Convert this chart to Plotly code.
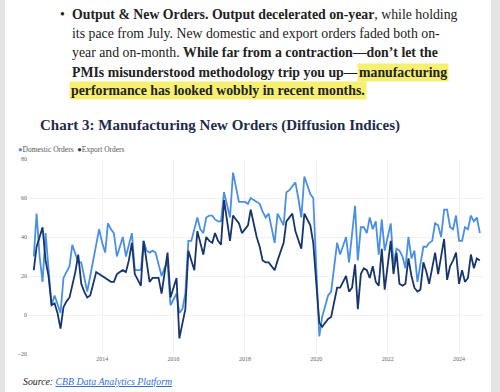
import plotly.graph_objects as go
import pandas as pd

# ---- data (monthly, Feb 2012 - Aug 2024) ----
months = pd.date_range("2012-02-01", "2024-08-01", freq="MS")

domestic_orders = [
    30, 52, 30, 17, 42, 23, 5, 10, 6, 1,
    19, 22, 25, 36, 31, 27, 27, 20, 12, 20,
    28, 36, 44, 37, 32, 47, 44, 42, 30, 35,
    40, 30, 36, 42, 23, 23, 23, 38, 33, 32,
    33, 32, 26, 20, 24, 27, 5, 8, 11, 1,
    3, 11, 38, 38, 44, 50, 44, 42, 50, 51,
    51, 49, 48, 48, 63, 56, 50, 73, 65, 58,
    58, 58, 57, 60, 59, 58, 57, 53, 50, 52,
    45, 37, 52, 49, 46, 63, 64, 66, 68, 60,
    50, 71, 66, 62, 60, 24, -11, -1, 5, 10,
    12, 25, 37, 31, 35, 40, 27, 40, 56, 28,
    45, 45, 42, 50, 44, 48, 31, 49, 33, 40,
    47, 26, 34, 33, 30, 24, 40, 29, 33, 17,
    27, 35, 35, 37, 38, 47, 46, 40, 54, 54,
    45, 44, 51, 38, 38, 45, 44, 51, 48, 50,
    42,
]

export_orders = [
    23, 35, 40, 45, 28, 20, 5, 6, 1, -7,
    4, 7, 9, 15, 22, 31, 16, 12, 9, 10,
    16, 22, 21, 20, 19, 18, 17, 17, 21, 22,
    23, 22, 28, 37, 21, 18, 15, 38, 28, 17,
    19, 19, 19, 11, 22, 32, 9, 14, 19, -12,
    -4, 3, 33, 28, 23, 43, 37, 31, 40, 38,
    37, 42, 38, 36, 59, 48, 38, 51, 49, 47,
    42, 44, 46, 54, 47, 40, 35, 28, 27, 27,
    25, 23, 28, 32, 37, 48, 50, 52, 43, 38,
    34, 52, 49, 46, 37, 18, -4, -6, -4, -2,
    -1, 7, 14, 14, 17, 20, 12, 14, 26, 3,
    21, 24, 23, 19, 25, 17, 15, 34, 13, 25,
    38, 21, 32, 16, 15, 16, 29, 20, 14, 12,
    13, 27, 22, 16, 25, 32, 21, 30, 39, 18,
    25, 28, 32, 16, 23, 17, 19, 31, 24, 29,
    28,
]

series_names = ["Domestic Orders", "Export Orders"]
y_ticks = [-20, 0, 20, 40, 60, 80]
x_tick_years = ["2014", "2016", "2018", "2020", "2022", "2024"]

# ---- layout geometry (pixels) ----
W, H = 500, 392
L, R, T, B = 28, 483, 159, 354
PW, PH = R - L, B - T


def px(x):
    return (x - L) / PW


def py(y):
    return (B - y) / PH


DOM_COLOR = "#4a8fe6"
EXP_COLOR = "#17346b"
HIGHLIGHT = "#f6ef72"
SERIF = "Liberation Serif"
BODY_SIZE = 13.8
TEXT_COLOR = "#222222"

fig = go.Figure()
fig.add_trace(go.Scatter(x=months, y=domestic_orders, name=series_names[0], mode="lines",
                         line=dict(color=DOM_COLOR, width=1.8), showlegend=False))
fig.add_trace(go.Scatter(x=months, y=export_orders, name=series_names[1], mode="lines",
                         line=dict(color=EXP_COLOR, width=1.8), showlegend=False))

shapes = [
    dict(type="rect", xref="paper", yref="paper", x0=px(0), x1=px(5), y0=py(H), y1=py(0),
         fillcolor="#e4e4e4", line=dict(width=0), layer="below"),
    dict(type="rect", xref="paper", yref="paper", x0=px(491), x1=px(W), y0=py(H), y1=py(0),
         fillcolor="#e4e4e4", line=dict(width=0), layer="below"),
]


def text_ann(text, x, y, size, color=TEXT_COLOR, anchor="left", bg=None):
    d = dict(text=text, xref="paper", yref="paper", x=px(x), y=py(y), xanchor=anchor,
             yanchor="middle", showarrow=False, font=dict(family=SERIF, size=size, color=color))
    if bg:
        d.update(bgcolor=bg, borderpad=1)
    return d


line_y = [14.5, 33.5, 52.5, 72, 91]
ann = [
    text_ann("•", 62, line_y[0], BODY_SIZE, anchor="center"),
    text_ann("<b>Output &amp; New Orders. Output decelerated on-year</b>, while holding", 70, line_y[0], BODY_SIZE),
    text_ann("its pace from July. New domestic and export orders faded both on-", 70, line_y[1], BODY_SIZE),
    text_ann("year and on-month. <b>While far from a contraction—don’t let the</b>", 70, line_y[2], BODY_SIZE),
    text_ann("<b>PMIs misunderstood methodology trip you up—</b>", 70, line_y[3], BODY_SIZE),
    text_ann("<b>manufacturing</b>", 449, line_y[3], BODY_SIZE, anchor="right", bg=HIGHLIGHT),
    text_ann("<b>performance has looked wobbly in recent months.</b>", 69, line_y[4], BODY_SIZE, bg=HIGHLIGHT),
    text_ann("<b>Chart 3: Manufacturing New Orders (Diffusion Indices)</b>", 38, 126, 15, color="#1e2b4c"),
    text_ann(f"<span style='color:{DOM_COLOR}'>●</span>{series_names[0]}  "
             f"<span style='color:{EXP_COLOR}'>●</span>{series_names[1]}", 16, 149, 7.5, color="#555555"),
    text_ann("<i>Source: <span style='color:#2f6fd0'><u>CBB Data Analytics Platform</u></span></i>",
             21, 381, 9.8),
]

fig.update_layout(
    width=W, height=H,
    margin=dict(l=L, r=W - R, t=T, b=H - B),
    paper_bgcolor="white", plot_bgcolor="white",
    shapes=shapes, annotations=ann,
    showlegend=False,
    xaxis=dict(range=["2011-12-04", "2024-09-02"], tickvals=[f"{y}-01-01" for y in x_tick_years],
               ticktext=x_tick_years, showgrid=True, gridcolor="#f1f1f1", gridwidth=1,
               zeroline=False, showline=False, ticks="",
               tickfont=dict(family=SERIF, size=6, color="#666666")),
    yaxis=dict(range=[-20, 80], tickvals=y_ticks, showgrid=True, gridcolor="#f1f1f1",
               zeroline=False, showline=False, ticks="",
               tickfont=dict(family=SERIF, size=6, color="#666666")),
)

fig.write_html("out.html", config={"displayModeBar": False},
               post_script="document.body.style.margin='0';document.body.style.overflow='hidden';")
